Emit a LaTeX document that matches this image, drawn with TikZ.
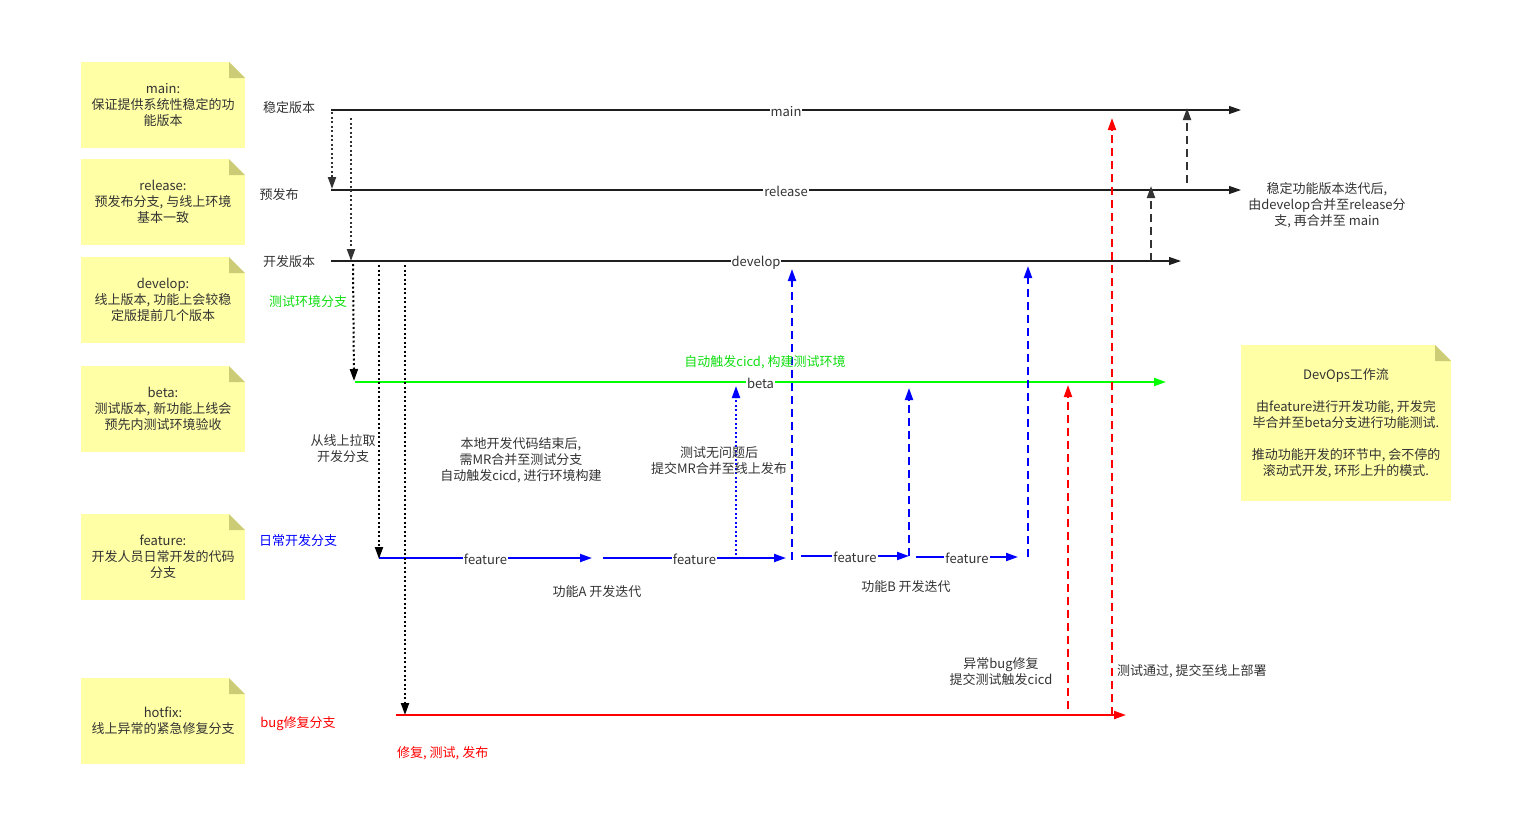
\documentclass[tikz,border=0pt]{standalone}
\usepackage{fontspec}
\setmainfont{Noto Sans CJK SC}
\usetikzlibrary{arrows.meta}
\definecolor{txt}{HTML}{333333}
\definecolor{notefill}{HTML}{FFFFA6}
\definecolor{notefold}{HTML}{CCCC77}
\definecolor{gr}{HTML}{00FF00}
\definecolor{grtxt}{HTML}{11DD11}
\definecolor{bl}{HTML}{0000FF}
\definecolor{rd}{HTML}{FF0000}
\definecolor{dk}{HTML}{333333}
\begin{document}
\begin{tikzpicture}[x=1pt,y=-1pt,
  font=\fontsize{13}{16}\selectfont, text=txt,
  arr/.style={-{Triangle[length=12pt,width=8pt]}},
  lbl/.style={fill=white, inner sep=1pt, text=txt, yshift=-1.5pt},
  thickln/.style={line width=2.4pt, black},
  thinln/.style={line width=1.2pt, black!88},
  dotln/.style={line width=2pt, dash pattern=on 2pt off 2.5pt},
  dashln/.style={line width=2pt, dash pattern=on 8pt off 5pt},
  colln/.style={line width=2pt},
  txtnode/.style={align=center, inner sep=0pt, yshift=-1.5pt},
  note/.style={rectangle, inner sep=0pt, align=center,
    minimum width=164pt, minimum height=86pt,
    path picture={
      \fill[notefill] (path picture bounding box.south west) rectangle (path picture bounding box.north east);
      \fill[white] ([xshift=-16pt]path picture bounding box.north east) -- (path picture bounding box.north east) -- ([yshift=-16pt]path picture bounding box.north east) -- cycle;
      \fill[notefold] ([xshift=-16pt]path picture bounding box.north east) -- ([xshift=-16pt,yshift=-16pt]path picture bounding box.north east) -- ([yshift=-16pt]path picture bounding box.north east) -- cycle;
    }}
]
\useasboundingbox (0,0) rectangle (1514,833);

% ---------- notes ----------
\node[note] (nmain) at (163,105) {main:\\保证提供系统性稳定的功\\能版本};
\node[note] (nrel) at (163,202) {release:\\预发布分支, 与线上环境\\基本一致};
\node[note] (ndev) at (163,300) {develop:\\线上版本, 功能上会较稳\\定版提前几个版本};
\node[note] (nbeta) at (163,409) {beta:\\测试版本, 新功能上线会\\预先内测试环境验收};
\node[note] (nfeat) at (163,557) {feature:\\开发人员日常开发的代码\\分支};
\node[note] (nhot) at (163,721) {hotfix:\\线上异常的紧急修复分支};
\node[note, minimum width=210pt, minimum height=156pt] (ndevops) at (1346,423)
  {DevOps工作流\\[16pt]由feature进行开发功能, 开发完\\毕合并至beta分支进行功能测试.\\[16pt]推动功能开发的环节中, 会不停的\\滚动式开发, 环形上升的模式.};

% ---------- left labels ----------
\node[txtnode] (lmain) at (289,106) {稳定版本};
\node[txtnode] (lrel) at (279,193) {预发布};
\node[txtnode] (ldev) at (289,260) {开发版本};
\node[txtnode, text=grtxt] (lbeta) at (308,300) {测试环境分支};
\node[txtnode, text=bl] (lfeat) at (298,539) {日常开发分支};
\node[txtnode, text=rd] (lhot) at (298,722) {bug修复分支};

% ---------- coordinates ----------
\coordinate (mL) at (331,110); \coordinate (mM) at (587,110); \coordinate (mR) at (1241,110);
\coordinate (rL) at (331,190); \coordinate (rM) at (587,190); \coordinate (rR) at (1241,190);
\coordinate (dL) at (331,261); \coordinate (dM) at (587,261); \coordinate (dR) at (1181,261);
\coordinate (bL) at (355,382); \coordinate (bR) at (1166,382);
\coordinate (f1a) at (379,558); \coordinate (f1b) at (592,558);
\coordinate (f2a) at (603,558); \coordinate (f2b) at (786,558);
\coordinate (f3a) at (801,556); \coordinate (f3b) at (909,556);
\coordinate (f4a) at (916,557); \coordinate (f4b) at (1018,557);
\coordinate (hL) at (396,715); \coordinate (hR) at (1126,715);

% ---------- branch lines ----------
\draw[thickln] (mL) -- (mM);
\draw[thinln, arr] (mL) -- node[lbl] (tmain) {main} (mR);
\draw[thickln] (rL) -- (rM);
\draw[thinln, arr] (rL) -- node[lbl] (trel) {release} (rR);
\draw[thickln] (dL) -- (dM);
\draw[thinln, arr] (dL) -- node[lbl] (tdev) {develop} (dR);
\draw[colln, gr, arr] (bL) -- node[lbl] (tbeta) {beta} (bR);
\draw[colln, bl, arr] (f1a) -- node[lbl] (tf1) {feature} (f1b);
\draw[colln, bl, arr] (f2a) -- node[lbl] (tf2) {feature} (f2b);
\draw[colln, bl, arr] (f3a) -- node[lbl] (tf3) {feature} (f3b);
\draw[colln, bl, arr] (f4a) -- node[lbl] (tf4) {feature} (f4b);
\draw[colln, rd, arr] (hL) -- (hR);

% ---------- vertical connectors ----------
\coordinate (v1a) at (332,112); \coordinate (v1b) at (332,189);
\coordinate (v2a) at (351,118); \coordinate (v2b) at (351,261);
\coordinate (v3a) at (353,264); \coordinate (v3b) at (354,381);
\coordinate (v4a) at (379,265); \coordinate (v4b) at (379,559);
\coordinate (v5a) at (405,265); \coordinate (v5b) at (405,715);
\draw[dotln, dk, arr] (v1a) -- (v1b);
\draw[dotln, dk, arr] (v2a) -- (v2b);
\draw[dotln, black, arr] (v3a) -- (v3b);
\draw[dotln, black, arr] (v4a) -- (v4b);
\draw[dotln, black, arr] (v5a) -- (v5b);

\coordinate (b1a) at (736,555); \coordinate (b1b) at (736,386);
\coordinate (b2a) at (792,560); \coordinate (b2b) at (792,269);
\coordinate (b3a) at (909,556); \coordinate (b3b) at (909,388);
\coordinate (b4a) at (1028,557); \coordinate (b4b) at (1028,266);
\draw[dotln, bl, arr] (b1a) -- (b1b);
\draw[dashln, bl, arr] (b2a) -- (b2b);
\draw[dashln, bl, arr] (b3a) -- (b3b);
\draw[dashln, bl, arr] (b4a) -- (b4b);

\coordinate (r1a) at (1068,709); \coordinate (r1b) at (1068,385);
\coordinate (r2a) at (1112,715); \coordinate (r2b) at (1112,118);
\draw[dashln, rd, arr] (r1a) -- (r1b);
\draw[dashln, rd, arr] (r2a) -- (r2b);

\coordinate (k1a) at (1151,261); \coordinate (k1b) at (1151,186);
\coordinate (k2a) at (1187,183); \coordinate (k2b) at (1187,108);
\draw[dashln, dk, arr] (k1a) -- (k1b);
\draw[dashln, dk, arr] (k2a) -- (k2b);

% ---------- annotations ----------
\node[txtnode] (tpull) at (343,447) {从线上拉取\\开发分支};
\node[txtnode] (tlocal) at (521,459) {本地开发代码结束后,\\需MR合并至测试分支\\自动触发cicd, 进行环境构建};
\node[txtnode] (tok) at (719,459) {测试无问题后\\提交MR合并至线上发布};
\node[txtnode, text=grtxt] (tauto) at (765,361) {自动触发cicd, 构建测试环境};
\node[txtnode] (tfa) at (597,590) {功能A 开发迭代};
\node[txtnode] (tfb) at (906,585) {功能B 开发迭代};
\node[txtnode] (tbug) at (1001,670) {异常bug修复\\提交测试触发cicd};
\node[txtnode, anchor=west] (tpass) at (1117,670) {测试通过, 提交至线上部署};
\node[txtnode, anchor=west, text=rd] (tfix) at (397,752) {修复, 测试, 发布};
\node[txtnode] (tstable) at (1327,204) {稳定功能版本迭代后,\\由develop合并至release分\\支, 再合并至 main};
\end{tikzpicture}
\end{document}
